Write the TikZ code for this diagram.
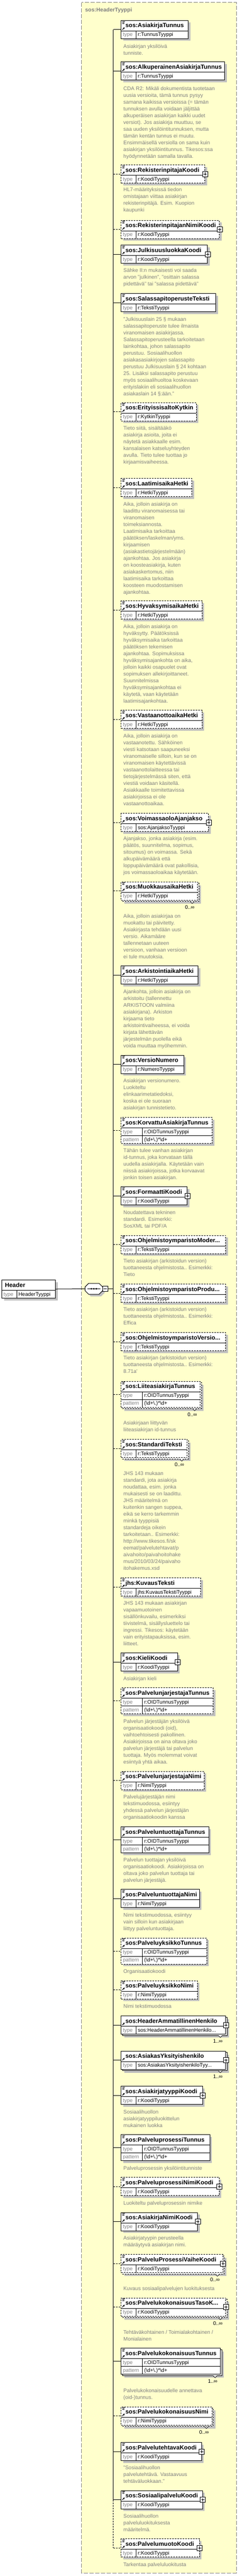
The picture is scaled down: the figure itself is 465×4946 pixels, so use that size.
\documentclass[tikz,border=0pt]{standalone}
\usepackage{fontspec}
\setmainfont{Liberation Sans}
\usetikzlibrary{arrows.meta}

\definecolor{bgyellow}{RGB}{255,255,204}
\definecolor{shadegray}{RGB}{192,192,192}
\definecolor{docgray}{RGB}{128,128,128}

\tikzset{elicons/.store in=\elicons, elicons=2}

% rows, type separator and icons of one element box
\newcommand{\elpic}{%
  \draw[solid] ([yshift=-20pt]path picture bounding box.north west) -- ([yshift=-20pt]path picture bounding box.north east)
    ([shift={(\es pt,-20pt)}]path picture bounding box.north west) -- ([xshift=\es pt]path picture bounding box.south west);%
  \ifnum\elrows=3 \draw[solid] ([yshift=-35pt]path picture bounding box.north west) -- ([yshift=-35pt]path picture bounding box.north east);\fi
  \ifnum\elicons>1 \draw[solid,line width=.8pt] ([shift={(2pt,-1.5pt)}]path picture bounding box.north west) -- +(5pt,0pt)
    ([shift={(2pt,-3.5pt)}]path picture bounding box.north west) -- +(4pt,0pt)
    ([shift={(2pt,-5.5pt)}]path picture bounding box.north west) -- +(4pt,0pt);\fi
  \ifnum\elicons>0 \draw[solid,line width=1.1pt,-{Stealth[length=3.5pt,width=3.5pt]}] ([shift={(2.3pt,-17.6pt)}]path picture bounding box.north west) -- +(4.6pt,4.6pt);\fi
}

% id, top, right, rows, border, name, type, multiplicity, extra keys
\newcommand{\elem}[9]{%
  \pgfmathsetmacro{\eh}{5+15*#4}%
  \pgfmathsetmacro{\eb}{#2+\eh}%
  \pgfmathsetmacro{\ew}{#3-232.3}%
  \pgfmathsetmacro{\es}{#4==3 ? 41 : 28.7}%
  \def\elrows{#4}%
  \ifx&#8&%
    \fill[shadowfill] (236.8,{#2+4.5}) rectangle ({#3+4.5},{\eb+4.5});%
  \else
    \fill[shadowfill] (239.3,{#2+7}) rectangle ({#3+7},{\eb+7});%
    \draw[#5,fill=white] (235.3,{#2+3}) rectangle ({#3+3},{\eb+3});%
    \draw[fill=white,line width=.7pt] ({#3-14},{\eb+3}) -- ({#3-10},{\eb+7}) -- ({#3-6},{\eb+3});%
    \node[multlbl] at ({#3-5},{\eb+17.5}) {#8};%
  \fi
  \node[elbox,#5,#9,minimum width=\ew pt,minimum height=\eh pt] (#1) at (232.3,#2) {};%
  \node[elname] at (240.6,{#2+14}) {#6};%
  \node[typelbl] at (235.6,{#2+31}) {type};%
  \node[typeval] at ({235.6+\es},{#2+31}) {#7};%
  \ifnum#4=3
    \node[typelbl] at (235.6,{#2+46}) {pattern};%
    \node[typeval] at ({235.6+\es},{#2+46}) {(\textbackslash d+\textbackslash .)*\textbackslash d+};%
  \fi
  \draw[#5] (#1.west -| sp) -- (#1.west);%
}

\newcommand{\docnote}[2]{\foreach \t [count=\i from 0] in {#2} {\node[doctext] at (236.7,{#1+4.5+13*\i}) {\t};}}

\begin{document}
\begin{tikzpicture}[x=1pt,y=-1pt,line width=1pt,
  req/.style={solid},
  opt/.style={dash pattern=on 3pt off 2pt},
  shadowfill/.style={fill=shadegray},
  cont/.style={draw=docgray,fill=bgyellow,dash pattern=on 8pt off 3pt},
  cttitle/.style={anchor=base west,inner sep=0pt,text=docgray,font=\fontsize{10.5}{13}\selectfont\bfseries},
  elbox/.style={draw,fill=white,inner sep=0pt,anchor=north west,elicons=2,path picture={\elpic}},
  cplx/.style={elicons=1},
  plus/.style={label={[plusbox]east:{}}},
  plusbox/.style={draw,solid,fill=white,line width=1pt,minimum size=10pt,inner sep=0pt,anchor=center,
    path picture={\draw[solid] ([xshift=-3pt]path picture bounding box.center) -- ([xshift=3pt]path picture bounding box.center)
      ([yshift=-3pt]path picture bounding box.center) -- ([yshift=3pt]path picture bounding box.center);}},
  minusbox/.style={draw,fill=white,minimum size=10pt,inner sep=0pt,
    path picture={\draw ([xshift=-3pt]path picture bounding box.center) -- ([xshift=3pt]path picture bounding box.center);}},
  elname/.style={anchor=base west,inner sep=0pt,font=\fontsize{11.5}{13}\selectfont\bfseries},
  typelbl/.style={anchor=base west,inner sep=0pt,text=docgray,font=\fontsize{10}{13}\selectfont},
  typeval/.style={anchor=base west,inner sep=0pt,font=\fontsize{10}{13}\selectfont},
  doctext/.style={anchor=base west,inner sep=0pt,text=docgray,font=\fontsize{10}{13}\selectfont},
  multlbl/.style={anchor=base east,inner sep=0pt,font=\fontsize{10}{13}\selectfont}]
\useasboundingbox[fill=white] (0,0) rectangle (465,4946);

% complex type container
\draw[cont] (156.7,5) rectangle (454,4940);
\node[cttitle] (ttl) at (163,23) {sos:HeaderTyyppi};
\coordinate (sp) at (217.7,0);

\elem{e1}{39}{361.3}{2}{req}{sos:AsiakirjaTunnus}{r:TunnusTyyppi}{}{}
\docnote{87.7}{{Asiakirjan yksilöivä},{tunniste.}}
\elem{e2}{118.3}{431}{2}{req}{sos:AlkuperainenAsiakirjaTunnus}{r:TunnusTyyppi}{}{}
\docnote{169.3}{{CDA R2: Mikäli dokumentista tuotetaan},{uusia versioita, tämä tunnus pysyy},{samana kaikissa versioissa (= tämän},{tunnuksen avulla voidaan jäljittää},{alkuperäisen asiakirjan kaikki uudet},{versiot). Jos asiakirja muuttuu, se},{saa uuden yksilöintitunnuksen, mutta},{tämän kentän tunnus ei muutu.},{Ensimmäisellä versiolla on sama kuin},{asiakirjan yksilöintitunnus. Tikesos:ssa},{hyödynnetään samalla tavalla.}}
\elem{e3}{316}{393.3}{2}{opt}{sos:RekisterinpitajaKoodi}{r:KoodiTyyppi}{}{plus}
\docnote{363.3}{{HL7-määrityksissä tiedon},{omistajaan viittaa asiakirjan},{rekisterinpitäjä. Esim. Kuopion},{kaupunki}}
\elem{e4}{422.7}{421}{2}{opt}{sos:RekisterinpitajanNimiKoodi}{r:KoodiTyyppi}{}{plus}
\elem{e5}{470}{398.3}{2}{req}{sos:JulkisuusluokkaKoodi}{r:KoodiTyyppi}{}{plus}
\docnote{518.3}{{Sähke II:n mukaisesti voi saada},{arvon "julkinen", "osittain salassa},{pidettävä" tai "salassa pidettävä"}}
\elem{e6}{563.3}{414}{2}{req}{sos:SalassapitoperusteTeksti}{r:TekstiTyyppi}{}{}
\docnote{611.7}{{"Julkisuuslain 25 § mukaan},{salassapitoperuste tulee ilmaista},{viranomaisen asiakirjassa.},{Salassapitoperusteella tarkoitetaan},{lainkohtaa, johon salassapito},{perustuu. Sosiaalihuollon},{asiakasasiakirjojen salassapito},{perustuu Julkisuuslain § 24 kohtaan},{25. Lisäksi salassapito perustuu},{myös sosiaalihuoltoa koskevaan},{erityislakiin eli sosiaalihuollon},{asiakaslain 14 §:ään."}}
\elem{e7}{772.7}{376.7}{2}{opt}{sos:ErityissisaltoKytkin}{r:KytkinTyyppi}{}{}
\docnote{821.3}{{Tieto siitä, sisältääkö},{asiakirja asioita, joita ei},{näytetä asiakkaalle esim.},{kansalaisen katseluyhteyden},{avulla. Tieto tulee tuottaa jo},{kirjaamisvaiheessa.}}
\elem{e8}{918.3}{368.3}{2}{opt}{sos:LaatimisaikaHetki}{r:HetkiTyyppi}{}{}
\docnote{966.7}{{Aika, jolloin asiakirja on},{laadittu viranomaisessa tai},{viranomaisen},{toimeksiannosta.},{Laatimisaika tarkoittaa},{päätöksen/laskelman/yms.},{kirjaamisen},{(asiakastietojärjestelmään)},{ajankohtaa. Jos asiakirja},{on koosteasiakirja, kuten},{asiakaskertomus, niin},{laatimisaika tarkoittaa},{koosteen muodostamisen},{ajankohtaa.}}
\elem{e9}{1153.3}{387.7}{2}{opt}{sos:HyvaksymisaikaHetki}{r:HetkiTyyppi}{}{}
\docnote{1201.7}{{Aika, jolloin asiakirja on},{hyväksytty. Päätöksissä},{hyväksymisaika tarkoittaa},{päätöksen tekemisen},{ajankohtaa. Sopimuksissa},{hyväksymisajankohta on aika,},{jolloin kaikki osapuolet ovat},{sopimuksen allekirjoittaneet.},{Suunnitelmissa},{hyväksymisajankohtaa ei},{käytetä, vaan käytetään},{laatimisajankohtaa.}}
\elem{e10}{1363.3}{387.7}{2}{opt}{sos:VastaanottoaikaHetki}{r:HetkiTyyppi}{}{}
\docnote{1412.3}{{Aika, jolloin asiakirja on},{vastaanotettu. Sähköinen},{viesti katsotaan saapuneeksi},{viranomaiselle silloin, kun se on},{viranomaisen käytettävissä},{vastaanottolaitteessa tai},{tietojärjestelmässä siten, että},{viestiä voidaan käsitellä.},{Asiakkaalle toimitettavissa},{asiakirjoissa ei ole},{vastaanottoaikaa.}}
\elem{e11}{1561}{400.3}{2}{opt}{sos:VoimassaoloAjanjakso}{sos:AjanjaksoTyyppi}{}{cplx,plus}
\docnote{1609}{{Ajanjakso, jonka asiakirja (esim.},{päätös, suunnitelma, sopimus,},{sitoumus) on voimassa. Sekä},{alkupäivämäärä että},{loppupäivämäärä ovat pakollisia,},{jos voimassaoloaikaa käytetään.}}
\elem{e12}{1692.7}{379.3}{2}{opt}{sos:MuokkausaikaHetki}{r:HetkiTyyppi}{0..∞}{}
\docnote{1758.3}{{Aika, jolloin asiakirjaa on},{muokattu tai päivitetty.},{Asiakirjasta tehdään uusi},{versio. Aikamääre},{tallennetaan uuteen},{versioon, vanhaan versioon},{ei tule muutoksia.}}
\elem{e13}{1854.3}{380}{2}{req}{sos:ArkistointiaikaHetki}{r:HetkiTyyppi}{}{}
\docnote{1903.3}{{Ajankohta, jolloin asiakirja on},{arkistoitu (tallennettu},{ARKISTOON valmiina},{asiakirjana). Arkiston},{kirjaama tieto},{arkistointivaiheessa, ei voida},{kirjata lähettävän},{järjestelmän puolella eikä},{voida muuttaa myöhemmin.}}
\elem{e14}{2025.7}{352.7}{2}{req}{sos:VersioNumero}{r:NumeroTyyppi}{}{}
\docnote{2074.3}{{Asiakirjan versionumero.},{Luokiteltu},{elinkaarimetatiedoksi,},{koska ei ole suoraan},{asiakirjan tunnistetieto.}}
\elem{e15}{2145}{407.3}{3}{opt}{sos:KorvattuAsiakirjaTunnus}{r:OIDTunnusTyyppi}{}{}
\docnote{2207.7}{{Tähän tulee vanhan asiakirjan},{id-tunnus, joka korvataan tällä},{uudella asiakirjalla. Käytetään vain},{niissä asiakirjoissa, jotka korvaavat},{jonkin toisen asiakirjan.}}
\elem{e16}{2278.3}{359.3}{2}{req}{sos:FormaattiKoodi}{r:KoodiTyyppi}{}{plus}
\docnote{2327.3}{{Noudatettava tekninen},{standardi. Esimerkki:},{SosXML tai PDF/A}}
\elem{e17}{2371.7}{433.3}{2}{opt}{sos:OhjelmistoymparistoModer...}{r:TekstiTyyppi}{}{}
\docnote{2420}{{Tieto asiakirjan (arkistoidun version)},{tuottaneesta ohjelmistosta.. Esimerkki:},{Tieto}}
\elem{e18}{2465}{433.3}{2}{opt}{sos:OhjelmistoymparistoProdu...}{r:TekstiTyyppi}{}{}
\docnote{2513.3}{{Tieto asiakirjan (arkistoidun version)},{tuottaneesta ohjelmistosta.. Esimerkki:},{Effica}}
\elem{e19}{2558.3}{433.3}{2}{opt}{sos:OhjelmistoymparistoVersio...}{r:TekstiTyyppi}{}{}
\docnote{2606}{{Tieto asiakirjan (arkistoidun version)},{tuottaneesta ohjelmistosta.. Esimerkki:},{8.71a\textquotesingle}}
\elem{e20}{2651.7}{384}{3}{opt}{sos:LiiteasiakirjaTunnus}{r:OIDTunnusTyyppi}{0..∞}{}
\docnote{2731}{{Asiakirjaan liittyvän},{liiteasiakirjan id-tunnus}}
\elem{e21}{2763.3}{359.3}{2}{opt}{sos:StandardiTeksti}{r:TekstiTyyppi}{0..∞}{}
\docnote{2828.3}{{JHS 143 mukaan},{standardi, jota asiakirja},{noudattaa, esim. jonka},{mukaisesti se on laadittu.},{JHS määritelmä on},{kuitenkin sangen suppea,},{eikä se kerro tarkemmin},{minkä tyyppisiä},{standardeja oikein},{tarkoitetaan.. Esimerkki:},{http://www.tikesos.fi/sk},{eemat/palvelutehtavat/p},{aivahoito/paivahoitohake},{mus/2010/03/24/paivaho},{itohakemus.xsd}}
\elem{e22}{3029}{385}{2}{opt}{jhs:KuvausTeksti}{jhs:KuvausTekstiTyyppi}{}{}
\docnote{3077.3}{{JHS 143 mukaan asiakirjan},{vapaamuotoinen},{sisällönkuvailu, esimerkiksi},{tiivistelmä, sisällysluettelo tai},{ingressi. Tikesos: käytetään},{vain erityistapauksissa, esim.},{liitteet.}}
\elem{e23}{3173.3}{340.7}{2}{req}{sos:KieliKoodi}{r:KoodiTyyppi}{}{plus}
\docnote{3221.7}{{Asiakirjan kieli}}
\elem{e24}{3240}{409.3}{3}{opt}{sos:PalvelunjarjestajaTunnus}{r:OIDTunnusTyyppi}{}{}
\docnote{3304}{{Palvelun järjestäjän yksilöivä},{organisaatiokoodi (oid),},{vaihtoehtoisesti pakollinen.},{Asiakirjoissa on aina oltava joko},{palvelun järjestäjä tai palvelun},{tuottaja. Myös molemmat voivat},{esiintyä yhtä aikaa.}}
\elem{e25}{3400.7}{391.7}{2}{opt}{sos:PalvelunjarjestajaNimi}{r:NimiTyyppi}{}{}
\docnote{3449.3}{{Palvelujärjestäjän nimi},{tekstimuodossa, esiintyy},{yhdessä palvelun järjestäjän},{organisaatiokoodin kanssa}}
\elem{e26}{3507.3}{400.7}{3}{req}{sos:PalveluntuottajaTunnus}{r:OIDTunnusTyyppi}{}{}
\docnote{3570}{{Palvelun tuottajan yksilöivä},{organisaatiokoodi. Asiakirjoissa on},{oltava joko palvelun tuottaja tai},{palvelun järjestäjä.}}
\elem{e27}{3627.3}{382.7}{2}{req}{sos:PalveluntuottajaNimi}{r:NimiTyyppi}{}{}
\docnote{3676}{{Nimi tekstimuodossa, esiintyy},{vain silloin kun asiakirjaan},{liittyy palveluntuottaja.}}
\elem{e28}{3720.7}{396.7}{3}{opt}{sos:PalveluyksikkoTunnus}{r:OIDTunnusTyyppi}{}{}
\docnote{3784.3}{{Organisaatiokoodi}}
\elem{e29}{3802.7}{378.7}{2}{opt}{sos:PalveluyksikkoNimi}{r:NimiTyyppi}{}{}
\docnote{3851}{{Nimi tekstimuodossa}}
\elem{e30}{3870}{433.3}{2}{req}{sos:HeaderAmmatillinenHenkilo}{sos:HeaderAmmatillinenHenkilo...}{1..∞}{cplx,plus}
\elem{e31}{3937.7}{433.3}{2}{req}{sos:AsiakasYksityishenkilo}{sos:AsiakasYksityishenkiloTyy...}{1..∞}{cplx,plus}
\elem{e32}{4005}{388.7}{2}{req}{sos:AsiakirjatyyppiKoodi}{r:KoodiTyyppi}{}{plus}
\docnote{4054}{{Sosiaalihuollon},{asiakirjatyyppiluokittelun},{mukainen luokka}}
\elem{e33}{4098.3}{402.7}{3}{req}{sos:PalveluprosessiTunnus}{r:OIDTunnusTyyppi}{}{}
\docnote{4162.3}{{Palveluprosessin yksilöintitunniste}}
\elem{e34}{4180}{420.7}{2}{opt}{sos:PalveluprosessiNimiKoodi}{r:KoodiTyyppi}{}{plus}
\docnote{4229}{{Luokiteltu palveluprosessin nimike}}
\elem{e35}{4247.7}{379.3}{2}{req}{sos:AsiakirjaNimiKoodi}{r:KoodiTyyppi}{}{plus}
\docnote{4296}{{Asiakirjatyypin perusteella},{määräytyvä asiakirjan nimi.}}
\elem{e36}{4328.3}{427.7}{2}{opt}{sos:PalveluProsessiVaiheKoodi}{r:KoodiTyyppi}{0..∞}{plus}
\docnote{4393.3}{{Kuvaus sosiaalipalvelujen luokituksesta}}
\elem{e37}{4411.7}{433.3}{2}{opt}{sos:PalvelukokonaisuusTasoK...}{r:KoodiTyyppi}{0..∞}{plus}
\docnote{4477.3}{{Tehtäväkohtainen / Toimialakohtainen /},{Monialainen}}
\elem{e38}{4508.3}{423.3}{3}{req}{sos:PalvelukokonaisuusTunnus}{r:OIDTunnusTyyppi}{1..∞}{}
\docnote{4589}{{Palvelukokonaisuudelle annettava},{(oid-)tunnus.}}
\elem{e39}{4620.7}{406.7}{2}{opt}{sos:PalvelukokonaisuusNimi}{r:NimiTyyppi}{0..∞}{}
\elem{e40}{4689}{386.7}{2}{req}{sos:PalvelutehtavaKoodi}{r:KoodiTyyppi}{}{plus}
\docnote{4737.3}{{"Sosiaalihuollon},{palvelutehtävä. Vastaavuus},{tehtäväluokkaan."}}
\elem{e41}{4781.7}{388.7}{2}{req}{sos:SosiaalipalveluKoodi}{r:KoodiTyyppi}{}{plus}
\docnote{4830}{{Sosiaalihuollon},{palveluluokituksesta},{määritelmä.}}
\elem{e42}{4874.3}{382.7}{2}{opt}{sos:PalvelumuotoKoodi}{r:KoodiTyyppi}{}{plus}
\docnote{4923.3}{{Tarkentaa palveluluokitusta}}

% sequence spine
\draw (e1.west -| sp) -- (e41.west -| sp);
\draw[opt] (e41.west -| sp) -- (e42.west -| sp);

% sequence compositor
\fill[shadowfill] (174.3,2468) -- (194.3,2468) -- (201.3,2475) -- (201.3,2482) -- (194.3,2489) -- (174.3,2489) -- (167.3,2482) -- (167.3,2475) -- cycle;
\draw[fill=white] (170.3,2464) -- (190.3,2464) -- (197.3,2471) -- (197.3,2478) -- (190.3,2485) -- (170.3,2485) -- (163.3,2478) -- (163.3,2471) -- cycle;
\node[inner sep=0pt,minimum width=34pt,minimum height=21pt] (seq) at (180.3,2474.5) {};
\draw (167.5,2474.5) -- (193,2474.5);
\foreach \d in {175.5,180.3,185.1} \fill (\d,2474.5) circle (1.7pt);
\node[minusbox] (seqm) at (202.3,2474.5) {};
\draw (seqm.east) -- (seqm.east -| sp);

% root element
\def\es{28.7}\def\elrows{2}
\fill[shadowfill] (7.5,2461.5) rectangle (110.5,2496.5);
\node[elbox,elicons=0,minimum width=103pt,minimum height=35pt] (hdr) at (3,2457) {};
\node[elname] at (9,2471) {Header};
\node[typelbl] at (6.3,2488) {type};
\node[typeval] at (35,2488) {HeaderTyyppi};
\draw (hdr.east) -- (seq.west);
\end{tikzpicture}
\end{document}
